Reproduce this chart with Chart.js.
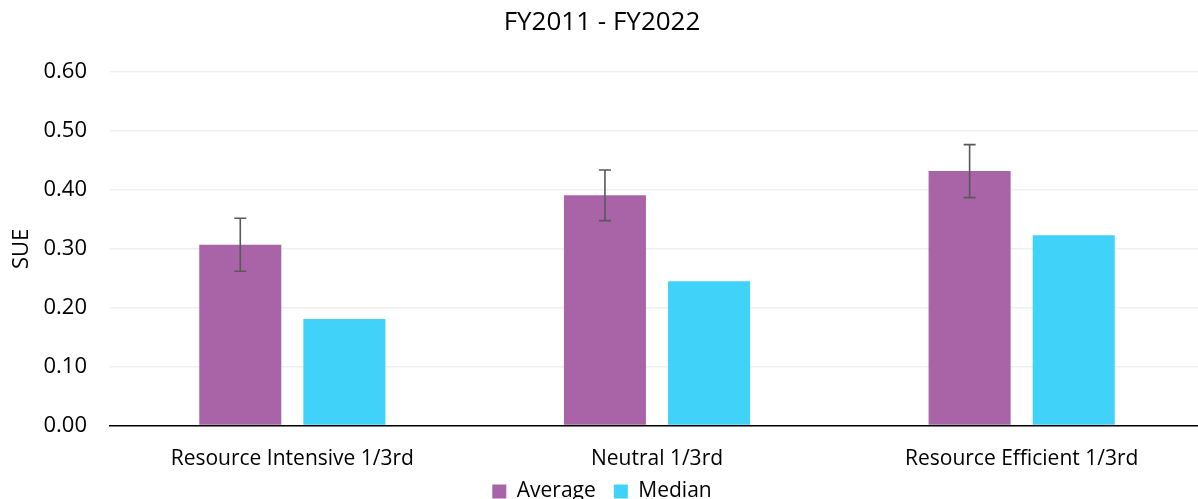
<!DOCTYPE html>
<html>
<head>
<meta charset="utf-8">
<script src="https://cdn.jsdelivr.net/npm/chart.js@4.4.1/dist/chart.umd.min.js"></script>
<style>
  html, body { margin: 0; padding: 0; background: #fff; overflow: hidden; }
  #wrap { position: relative; width: 1210px; height: 512px; }
</style>
</head>
<body>
<div id="wrap"><canvas id="chart"></canvas></div>
<script>
const categories = ['Resource Intensive 1/3rd', 'Neutral 1/3rd', 'Resource Efficient 1/3rd'];
const average = [0.307, 0.391, 0.432];
const median = [0.181, 0.245, 0.323];
const averageError = [0.045, 0.043, 0.045]; // +/- error bar on the average
const yTicks = [0, 0.1, 0.2, 0.3, 0.4, 0.5, 0.6];

const FONT = "'Open Sans', sans-serif";

// draw the error bars on the Average bars
const errorBars = {
  id: 'errorBars',
  afterDatasetsDraw(chart) {
    const meta = chart.getDatasetMeta(0);
    const y = chart.scales.y;
    const ctx = chart.ctx;
    ctx.save();
    ctx.strokeStyle = '#595959';
    ctx.lineWidth = 1.6;
    meta.data.forEach((bar, i) => {
      const top = y.getPixelForValue(average[i] + averageError[i]);
      const bot = y.getPixelForValue(average[i] - averageError[i]);
      ctx.beginPath();
      ctx.moveTo(bar.x, top); ctx.lineTo(bar.x, bot);
      ctx.moveTo(bar.x - 6, top); ctx.lineTo(bar.x + 6, top);
      ctx.moveTo(bar.x - 6, bot); ctx.lineTo(bar.x + 6, bot);
      ctx.stroke();
    });
    ctx.restore();
  }
};

// the x scale box is kept short so the legend sits close; let its labels spill below it
const labelRoom = {
  id: 'labelRoom',
  afterLayout(chart) { chart.scales.x.bottom = chart.height; }
};

new Chart(document.getElementById('chart'), {
  type: 'bar',
  data: {
    labels: categories,
    datasets: [
      { label: 'Average', data: average, backgroundColor: '#A864A6' },
      { label: 'Median', data: median, backgroundColor: '#40D2F8' }
    ]
  },
  options: {
    responsive: true,
    maintainAspectRatio: false,
    animation: false,
    devicePixelRatio: 1,
    categoryPercentage: 0.571,
    barPercentage: 0.788,
    layout: { padding: { left: 0, right: 6, top: 0, bottom: 0 } },
    plugins: {
      title: {
        display: true,
        text: 'FY2011 - FY2022',
        color: '#000',
        font: { family: FONT, size: 26, weight: 'normal' },
        padding: { top: 7, bottom: 34 }
      },
      legend: {
        position: 'bottom',
        labels: {
          color: '#000',
          font: { family: FONT, size: 21 },
          boxWidth: 14,
          boxHeight: 14,
          padding: 18
        }
      },
      tooltip: { enabled: false }
    },
    scales: {
      x: {
        afterFit(scale) { scale.height = 37.5; },
        grid: { display: false },
        border: { color: '#000', width: 1.5 },
        ticks: { color: '#000', font: { family: FONT, size: 21 }, padding: 13, maxRotation: 0 }
      },
      y: {
        min: 0,
        max: 0.6,
        afterBuildTicks(scale) { scale.ticks = yTicks.map(v => ({ value: v })); },
        afterFit(scale) { scale.width = 110; },
        grid: { color: '#EFEFEF', lineWidth: 1.5, drawTicks: false },
        border: { display: false },
        title: {
          display: true,
          text: 'SUE',
          color: '#000',
          font: { family: FONT, size: 22 },
          padding: { top: 9, bottom: 0 }
        },
        ticks: {
          color: '#000',
          font: { family: FONT, size: 22 },
          padding: 23,
          callback: v => v.toFixed(2)
        }
      }
    }
  },
  plugins: [errorBars, labelRoom]
});
</script>
</body>
</html>
